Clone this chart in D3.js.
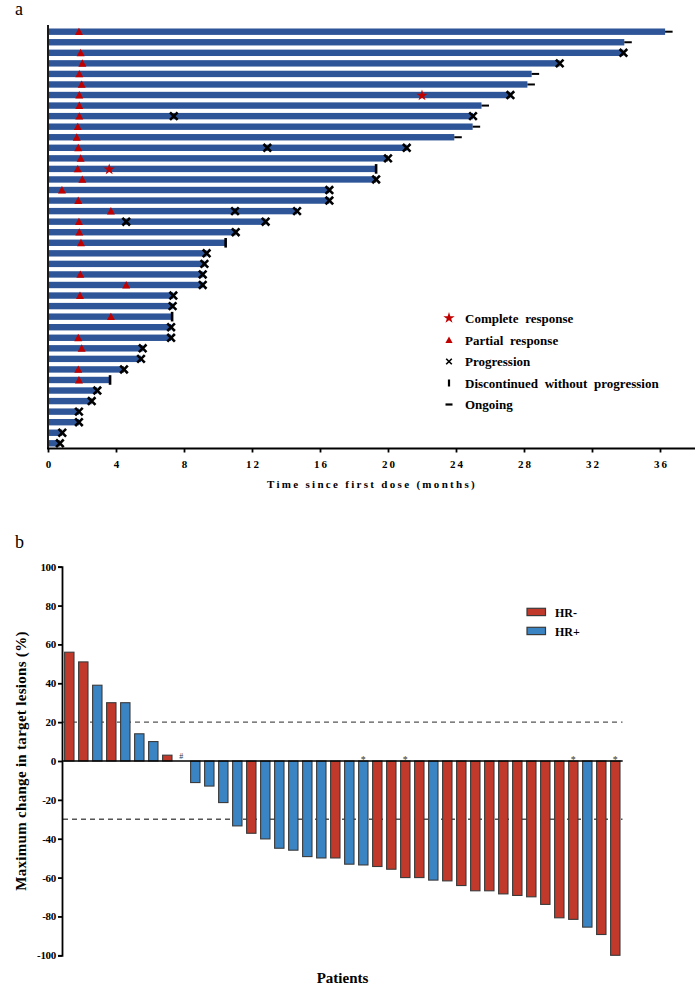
<!DOCTYPE html>
<html>
<head>
<meta charset="utf-8">
<script src="https://cdn.jsdelivr.net/npm/d3@7"></script>
<style>
  body { margin: 0; background: #fff; }
  svg { display: block; font-family: "Liberation Serif", "Times New Roman", serif; }
</style>
</head>
<body>
<svg id="chart" width="695" height="999"></svg>
<script>
// ---- panel a: swimmer plot ----
var durations = [36.3, 33.9, 33.85, 30.1, 28.45, 28.2, 27.2, 25.5, 25.0, 24.98,
                 23.9, 21.1, 20.0, 19.3, 19.3, 16.55, 16.55, 14.65, 12.8, 11.04,
                 10.45, 9.33, 9.2, 9.1, 9.1, 7.37, 7.33, 7.3, 7.24, 7.24,
                 5.57, 5.47, 4.47, 3.65, 2.9, 2.57, 1.82, 1.82, 0.84, 0.7];
// O = ongoing, P = progression, D = discontinued without progression
var endings = ["O","O","P","P","O","O","P","O","P","O",
               "O","P","P","D","P","P","P","P","P","P",
               "D","P","P","P","P","P","P","D","P","P",
               "P","P","P","D","P","P","P","P","P","P"];
var partialResp = [1.82, null, 1.92, 2.02, 1.84, 1.98, 1.84, 1.84, 1.84, 1.75,
                   1.69, 1.78, 1.92, 1.75, 2.02, 0.82, 1.78, 3.7, 1.82, 1.84,
                   1.94, null, null, 1.9, 4.6, 1.88, null, 3.7, null, 1.78,
                   1.98, null, 1.78, 1.82, null, null, null, null, null, null];
var completeResp = [null, null, null, null, null, null, 22.0, null, null, null,
                    null, null, null, 3.6, null, null, null, null, null, null,
                    null, null, null, null, null, null, null, null, null, null,
                    null, null, null, null, null, null, null, null, null, null];
// progression marks that sit inside a bar (row index, months)
var extraProgRow = [8, 11, 17, 18];
var extraProgTime = [7.4, 12.9, 11.0, 4.6];
var monthTicks = [0, 4, 8, 12, 16, 20, 24, 28, 32, 36];
var legendA = ["Complete response", "Partial response", "Progression",
               "Discontinued without progression", "Ongoing"];

// ---- panel b: waterfall plot ----
var changes = [56, 51, 39, 30, 30, 14, 10, 3, null, -11.1,
               -12.9, -21.4, -33.4, -37.2, -40.1, -44.9, -45.9, -49.2, -49.9, -49.9,
               -53.1, -53.5, -54.3, -55.7, -60, -60, -61.3, -61.7, -64.1, -66.8,
               -66.8, -68.4, -69.2, -69.9, -73.8, -80.7, -81.5, -85.5, -89.3, -100];
var groups = ["HR-","HR-","HR+","HR-","HR+","HR+","HR+","HR-","","HR+",
              "HR+","HR+","HR+","HR-","HR+","HR+","HR+","HR+","HR+","HR-",
              "HR+","HR+","HR-","HR-","HR-","HR-","HR+","HR-","HR-","HR-",
              "HR-","HR-","HR-","HR-","HR-","HR-","HR-","HR+","HR-","HR-"];
var notes = ["","","","","","","","","#","",
             "","","","","","","","","","",
             "","*","","","*","","","","","",
             "","","","","","","*","","","*"];
var changeTicks = [-100, -80, -60, -40, -20, 0, 20, 40, 60, 80, 100];
var refLines = [20, -30];
var legendB = ["HR-", "HR+"];

var svg = d3.select("#chart");
var barBlue = "#2e5597", mark = "#c00000";

// ================= panel a =================
svg.append("text").attr("x", 15).attr("y", 15).attr("font-size", 18).text("a");

var x = d3.scaleLinear().domain([0, 36]).range([48, 660]);
var rows = d3.range(durations.length);
var y = d3.scalePoint().domain(rows).range([31.7, 443.3]);

var ga = svg.append("g");

ga.selectAll("rect.bar").data(rows).enter().append("rect")
  .attr("class", "bar")
  .attr("x", x(0) + 1)
  .attr("y", function(i) { return y(i) - 3.2; })
  .attr("width", function(i) { return x(durations[i]) - x(0) - 1; })
  .attr("height", 6.4)
  .attr("fill", barBlue);

// y axis line
ga.append("line").attr("x1", 48).attr("x2", 48).attr("y1", 25).attr("y2", 448.5)
  .attr("stroke", "#000").attr("stroke-width", 1.8);

// x axis
var xAxis = d3.axisBottom(x).tickValues(monthTicks).tickSize(4).tickPadding(8);
var gx = ga.append("g").attr("transform", "translate(0,448.5)").call(xAxis);
gx.select(".domain").remove();
gx.append("line").attr("x1", 47).attr("x2", 695).attr("stroke", "#000").attr("stroke-width", 1.8);
gx.selectAll(".tick line").attr("stroke", "#000").attr("stroke-width", 1.8);
gx.selectAll(".tick text").attr("fill", "#000")
  .attr("font-family", "Liberation Serif").attr("font-weight", "bold")
  .attr("font-size", 11).attr("letter-spacing", "2px").attr("dx", "1px");

ga.append("text").attr("x", 372).attr("y", 488).attr("text-anchor", "middle")
  .attr("font-weight", "bold").attr("font-size", 11).attr("letter-spacing", "2.3px")
  .text("Time since first dose (months)");

function xMark(g, cx, cy, r, w) {
  g.append("path")
    .attr("d", "M" + (cx - r) + "," + (cy - r) + "L" + (cx + r) + "," + (cy + r) +
               "M" + (cx - r) + "," + (cy + r) + "L" + (cx + r) + "," + (cy - r))
    .attr("stroke", "#000").attr("stroke-width", w).attr("fill", "none");
}
function triangle(g, cx, cy, s) {
  g.append("path")
    .attr("d", "M" + cx + "," + (cy - s) + "L" + (cx - s) + "," + (cy + s * 0.85) +
               "L" + (cx + s) + "," + (cy + s * 0.85) + "Z")
    .attr("fill", mark);
}

rows.forEach(function(i) {
  var xe = x(durations[i]), yy = y(i);
  if (endings[i] === "O") {
    ga.append("line").attr("x1", xe).attr("x2", xe + 7.5).attr("y1", yy).attr("y2", yy)
      .attr("stroke", "#000").attr("stroke-width", 2);
  } else if (endings[i] === "D") {
    ga.append("line").attr("x1", xe).attr("x2", xe).attr("y1", yy - 4.8).attr("y2", yy + 4.8)
      .attr("stroke", "#000").attr("stroke-width", 2.6);
  } else {
    xMark(ga, xe, yy, 3.8, 2.6);
  }
  if (partialResp[i] != null) triangle(ga, x(partialResp[i]), yy, 4);
  if (completeResp[i] != null) {
    ga.append("path").attr("d", d3.symbol().type(d3.symbolStar).size(40)())
      .attr("transform", "translate(" + x(completeResp[i]) + "," + (yy + 0.5) + ")")
      .attr("fill", mark);
  }
});
extraProgRow.forEach(function(r, k) {
  xMark(ga, x(extraProgTime[k]), y(r), 3.8, 2.6);
});

// legend a
var lgA = ga.append("g");
legendA.forEach(function(t, k) {
  var ly = 318.5 + k * 21.5, lx = 449;
  if (k === 0) {
    lgA.append("path").attr("d", d3.symbol().type(d3.symbolStar).size(40)())
      .attr("transform", "translate(" + lx + "," + (ly - 0.5) + ")").attr("fill", mark);
  } else if (k === 1) {
    triangle(lgA, lx, ly, 3.6);
  } else if (k === 2) {
    xMark(lgA, lx, ly, 2.8, 1.6);
  } else if (k === 3) {
    lgA.append("line").attr("x1", lx).attr("x2", lx).attr("y1", ly - 3.5).attr("y2", ly + 3.5)
      .attr("stroke", "#000").attr("stroke-width", 2.2);
  } else {
    lgA.append("line").attr("x1", lx - 3.5).attr("x2", lx + 3.5).attr("y1", ly).attr("y2", ly)
      .attr("stroke", "#000").attr("stroke-width", 2.2);
  }
  lgA.append("text").attr("x", 465).attr("y", ly + 4.5)
    .attr("font-weight", "bold").attr("font-size", 13).attr("word-spacing", "3.5px").text(t);
});

// ================= panel b =================
svg.append("text").attr("x", 15).attr("y", 548).attr("font-size", 18).text("b");

var slots = d3.range(changes.length);
var xb = d3.scaleBand().domain(slots).range([62.3, 622.3]).paddingInner(0.33).paddingOuter(0.165);
var yb = d3.scaleLinear().domain([-100, 100]).range([955.3, 566.7]);
var color = d3.scaleOrdinal().domain(legendB).range(["#c0392b", "#3a84c4"]);

var gb = svg.append("g");

// reference lines behind bars
gb.selectAll("line.ref").data(refLines).enter().append("line")
  .attr("class", "ref")
  .attr("x1", 63).attr("x2", 622.5)
  .attr("y1", function(d) { return yb(d); }).attr("y2", function(d) { return yb(d); })
  .attr("stroke", "#555").attr("stroke-width", 1.4).attr("stroke-dasharray", "5,4");

gb.selectAll("rect.wf").data(slots.filter(function(i) { return changes[i] != null; }))
  .enter().append("rect")
  .attr("class", "wf")
  .attr("x", function(i) { return xb(i); })
  .attr("width", xb.bandwidth())
  .attr("y", function(i) { return Math.min(yb(changes[i]), yb(0)); })
  .attr("height", function(i) { return Math.abs(yb(changes[i]) - yb(0)); })
  .attr("fill", function(i) { return color(groups[i]); })
  .attr("stroke", "#3a3a3a").attr("stroke-width", 1.1);

// zero line
gb.append("line").attr("x1", 62).attr("x2", 622.7).attr("y1", yb(0)).attr("y2", yb(0))
  .attr("stroke", "#000").attr("stroke-width", 1.5);

// y axis
var yAxis = d3.axisLeft(yb).tickValues(changeTicks).tickSize(4).tickPadding(2)
  .tickFormat(function(d) { return String(d).replace("\u2212", "-"); });
var gy = gb.append("g").attr("transform", "translate(62,0)").call(yAxis);
gy.select(".domain").attr("stroke", "#000").attr("stroke-width", 1.8);
gy.selectAll(".tick line").attr("stroke", "#000").attr("stroke-width", 1.8);
gy.selectAll(".tick text").attr("fill", "#000")
  .attr("font-family", "Liberation Serif").attr("font-weight", "bold")
  .attr("font-size", 11).attr("letter-spacing", "-0.3px");

// notes above zero line
slots.forEach(function(i) {
  if (!notes[i]) return;
  gb.append("text")
    .attr("x", xb(i) + xb.bandwidth() / 2)
    .attr("y", notes[i] === "#" ? 759 : 763)
    .attr("text-anchor", "middle")
    .attr("font-size", notes[i] === "#" ? 8 : 10)
    .attr("fill", "#333")
    .text(notes[i]);
});

gb.append("text").attr("transform", "translate(26,761) rotate(-90)")
  .attr("text-anchor", "middle").attr("font-weight", "bold").attr("font-size", 15)
  .attr("letter-spacing", "0.3px")
  .text("Maximum change in target lesions (%)");

gb.append("text").attr("x", 342.5).attr("y", 982.5).attr("text-anchor", "middle")
  .attr("font-weight", "bold").attr("font-size", 15).text("Patients");

// legend b
legendB.forEach(function(g, k) {
  var ly = 608.3 + k * 19;
  gb.append("rect").attr("x", 527).attr("y", ly).attr("width", 18.5).attr("height", 7.3)
    .attr("fill", color(g)).attr("stroke", "#3a3a3a").attr("stroke-width", 1.2);
  gb.append("text").attr("x", 555).attr("y", ly + 8.6)
    .attr("font-weight", "bold").attr("font-size", 12).text(g);
});
</script>
</body>
</html>
